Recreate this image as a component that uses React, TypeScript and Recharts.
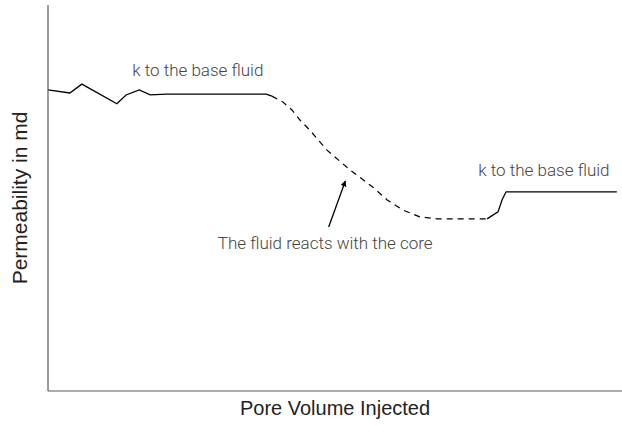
import { LineChart, Line, XAxis, YAxis, ReferenceDot, ReferenceLine } from 'recharts';

// pore volume injected (0-100) vs permeability (0-100)
const baseFluidBefore = [
  { pv: 0, k: 78.0 },
  { pv: 3.8, k: 77.2 },
  { pv: 5.9, k: 79.5 },
  { pv: 12.0, k: 74.4 },
  { pv: 13.6, k: 76.7 },
  { pv: 15.9, k: 78.0 },
  { pv: 17.8, k: 76.7 },
  { pv: 20.7, k: 76.9 },
  { pv: 38.0, k: 76.9 },
  { pv: 39.0, k: 76.4 },
];

const reactionDrop = [
  { pv: 39.0, k: 76.4 },
  { pv: 40.9, k: 74.9 },
  { pv: 42.5, k: 72.8 },
  { pv: 43.9, k: 70.2 },
  { pv: 45.6, k: 67.6 },
  { pv: 48.6, k: 62.4 },
  { pv: 52.6, k: 57.3 },
  { pv: 56.6, k: 52.8 },
  { pv: 59.1, k: 49.5 },
  { pv: 61.8, k: 46.9 },
  { pv: 64.8, k: 45.1 },
  { pv: 67.8, k: 44.6 },
  { pv: 76.5, k: 44.6 },
];

const baseFluidAfter = [
  { pv: 76.5, k: 44.6 },
  { pv: 78.4, k: 46.4 },
  { pv: 79.1, k: 49.5 },
  { pv: 79.8, k: 51.6 },
  { pv: 99.1, k: 51.6 },
];

const notes = [
  { pv: 26.1, k: 83.2, text: 'k to the base fluid' },
  { pv: 86.4, k: 57.3, text: 'k to the base fluid' },
  { pv: 48.3, k: 38.4, text: 'The fluid reacts with the core' },
];

// arrow from the caption up to the dashed curve
const arrow = [
  { pv: 48.9, k: 42.5 },
  { pv: 51.8, k: 54.4 },
];

const frame = '#5a5a5a';
const font = '"Liberation Sans", Arial, sans-serif';
const lightFont = 'Roboto, "Liberation Sans", sans-serif';

export default function App() {
  return (
    <div style={{ position: 'absolute', left: 0, top: 0, background: '#fff' }}>
      <LineChart width={622} height={434} margin={{ top: 5, right: 0, left: 0, bottom: 0 }}>
        <defs>
          <marker id="head" viewBox="0 0 10 10" refX="9" refY="5" markerWidth="6" markerHeight="8" orient="auto" markerUnits="userSpaceOnUse">
            <path d="M0,0 L10,5 L0,10 z" fill="#000" />
          </marker>
        </defs>
        <XAxis
          type="number"
          dataKey="pv"
          domain={[0, 100]}
          height={43}
          tick={false}
          tickLine={false}
          axisLine={{ stroke: frame, strokeWidth: 1.2 }}
          label={{ value: 'Pore Volume Injected', position: 'insideBottom', offset: 19, fill: '#222', fontSize: 20, fontFamily: font }}
        />
        <XAxis xAxisId="top" orientation="top" type="number" domain={[0, 100]} height={0} tick={false} tickLine={false} axisLine={{ stroke: frame, strokeWidth: 1.2 }} />
        <YAxis
          type="number"
          domain={[0, 100]}
          width={48}
          tick={false}
          tickLine={false}
          axisLine={{ stroke: frame, strokeWidth: 1.2 }}
          label={{ value: 'Permeability in md', angle: -90, position: 'center', dx: -4, fill: '#222', fontSize: 21, fontFamily: font }}
        />
        <Line data={baseFluidBefore} dataKey="k" type="linear" stroke="#000" strokeWidth={1.3} dot={false} isAnimationActive={false} />
        <Line data={reactionDrop} dataKey="k" type="linear" stroke="#000" strokeWidth={1.2} strokeDasharray="6 5" dot={false} isAnimationActive={false} />
        <Line data={baseFluidAfter} dataKey="k" type="linear" stroke="#000" strokeWidth={1.3} dot={false} isAnimationActive={false} />
        <ReferenceLine
          segment={[{ x: arrow[0].pv, y: arrow[0].k }, { x: arrow[1].pv, y: arrow[1].k }]}
          stroke="#000"
          strokeWidth={1.3}
          markerEnd="url(#head)"
        />
        {notes.map((n, i) => (
          <ReferenceDot
            key={i}
            x={n.pv}
            y={n.k}
            r={0}
            stroke="none"
            fill="none"
            label={{ value: n.text, position: 'center', fill: '#444', fontSize: 17, fontWeight: 300, fontFamily: lightFont }}
          />
        ))}
      </LineChart>
    </div>
  );
}
